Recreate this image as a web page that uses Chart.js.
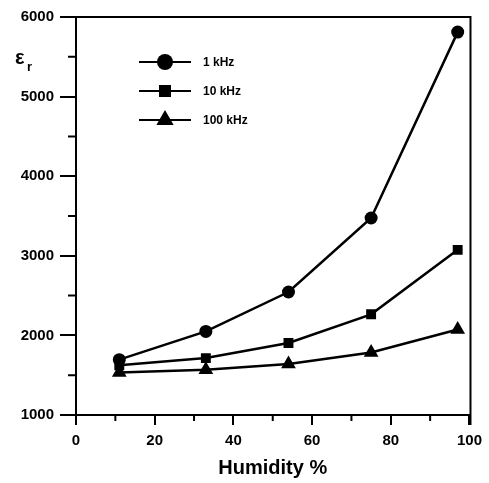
<!DOCTYPE html>
<html>
<head>
<meta charset="utf-8">
<script src="https://cdn.jsdelivr.net/npm/chart.js@4/dist/chart.umd.min.js"></script>
<style>
  html, body { margin: 0; padding: 0; background: #fff; }
  #wrap { width: 489px; height: 483px; }
</style>
</head>
<body>
<div id="wrap"><canvas id="chart" width="489" height="483"></canvas></div>
<script>
// ===== data =====
const humidity = [11, 33, 54, 75, 97];
const eps1k = [1695, 2050, 2545, 3475, 5810];
const eps10k = [1625, 1715, 1905, 2265, 3075];
const eps100k = [1535, 1570, 1640, 1785, 2075];
const seriesNames = ["1 kHz", "10 kHz", "100 kHz"];
const xTicks = [0, 20, 40, 60, 80, 100];
const yTicks = [1000, 2000, 3000, 4000, 5000, 6000];

const FONT = "'Liberation Sans', Arial, sans-serif";

function pts(ys) {
  return humidity.map((x, i) => ({ x: x, y: ys[i] }));
}

const markers = ["circle", "rect", "triangle"];
const radii = [6.5, 7, 8.5];

const datasets = [eps1k, eps10k, eps100k].map((ys, i) => ({
  label: seriesNames[i],
  data: pts(ys),
  showLine: true,
  borderColor: "#000",
  backgroundColor: "#000",
  borderWidth: 2.5,
  pointStyle: markers[i],
  pointRadius: radii[i],
  pointBorderWidth: 0,
  tension: 0
}));

// ===== frame, minor ticks, legend, y title =====
const decorPlugin = {
  id: "decor",
  afterDraw(chart) {
    const c = chart.ctx;
    const a = chart.chartArea;
    const xs = chart.scales.x, ys = chart.scales.y;
    c.save();
    c.strokeStyle = "#000";
    c.lineWidth = 2;
    // top + right frame
    c.beginPath();
    c.moveTo(a.left - 16, a.top);
    c.lineTo(a.right + 1, a.top);
    c.lineTo(a.right + 1, a.bottom + 10);
    c.stroke();
    // minor ticks
    c.beginPath();
    for (let v = 10; v < 100; v += 20) {
      const px = xs.getPixelForValue(v);
      c.moveTo(px, a.bottom);
      c.lineTo(px, a.bottom + 6);
    }
    for (let v = 1500; v < 6000; v += 1000) {
      const py = ys.getPixelForValue(v);
      c.moveTo(a.left, py);
      c.lineTo(a.left - 8, py);
    }
    c.stroke();

    // legend
    const rowY = [62, 91, 120];
    chart.data.datasets.forEach((ds, i) => {
      const y = rowY[i];
      c.beginPath();
      c.moveTo(139, y);
      c.lineTo(191, y);
      c.stroke();
      Chart.helpers.drawPoint(c, {
        pointStyle: ds.pointStyle,
        radius: ds.pointRadius + 1.5,
        rotation: 0,
        borderWidth: 0
      }, 165, y);
      c.fillStyle = "#000";
      c.font = "bold 12px " + FONT;
      c.textBaseline = "middle";
      c.textAlign = "left";
      c.fillText(ds.label, 203, y + 1);
    });

    // y title: epsilon_r
    c.fillStyle = "#000";
    c.textBaseline = "alphabetic";
    c.font = "bold 20px " + FONT;
    c.fillText("ε", 15, 64);
    c.font = "bold 13px " + FONT;
    c.fillText("r", 27, 71);
    c.restore();
  }
};

const ctx = document.getElementById("chart").getContext("2d");
new Chart(ctx, {
  type: "scatter",
  data: { datasets: datasets },
  plugins: [decorPlugin],
  options: {
    responsive: false,
    animation: false,
    layout: { padding: { top: 17, right: 18, left: 0, bottom: 0 } },
    plugins: { legend: { display: false }, tooltip: { enabled: false } },
    scales: {
      x: {
        type: "linear",
        min: 0, max: 100,
        afterBuildTicks: s => { s.ticks = xTicks.map(v => ({ value: v })); },
        afterFit: s => { s.height = 68; },
        grid: { drawOnChartArea: false, color: "#000", lineWidth: 2, tickLength: 10 },
        border: { color: "#000", width: 2 },
        ticks: {
          color: "#000", font: { family: FONT, size: 15, weight: "bold" }, padding: 7,
          callback: v => String(v)
        },
        title: {
          display: true, text: "Humidity %", color: "#000",
          font: { family: FONT, size: 20, weight: "bold" }, padding: { top: 0, bottom: 3 }
        }
      },
      y: {
        type: "linear",
        min: 1000, max: 6000,
        afterBuildTicks: s => { s.ticks = yTicks.map(v => ({ value: v })); },
        afterFit: s => { s.width = 76; },
        grid: { drawOnChartArea: false, color: "#000", lineWidth: 2, tickLength: 16 },
        border: { color: "#000", width: 2 },
        ticks: {
          color: "#000", font: { family: FONT, size: 15, weight: "bold" }, padding: 6,
          callback: v => String(v)
        }
      }
    }
  }
});
</script>
</body>
</html>
